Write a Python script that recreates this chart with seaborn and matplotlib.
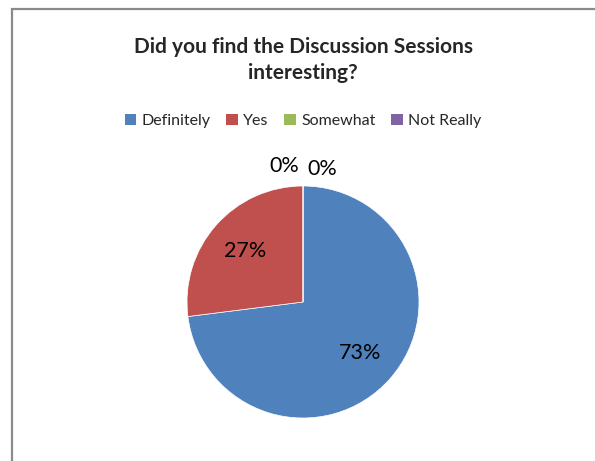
import matplotlib
matplotlib.use("Agg")
import matplotlib.pyplot as plt
import matplotlib.patches as mpatches
import seaborn as sns

categories = ["Definitely", "Yes", "Somewhat", "Not Really"]
values = [73, 27, 0, 0]
colors = ["#4F81BD", "#C0504D", "#9BBB59", "#8064A2"]
title = "Did you find the Discussion Sessions\ninteresting?"

sns.set_theme(style="white")
plt.rcParams["font.family"] = ["Lato", "DejaVu Sans"]

W, H = 595, 461
fig = plt.figure(figsize=(W / 100, H / 100), dpi=100)
fig.patch.set_facecolor("white")

# chart border (cropped at right and bottom)
border = mpatches.Rectangle((12 / W, -0.1), 1.2, (H - 9) / H + 0.1,
                            transform=fig.transFigure, fill=False,
                            edgecolor="#8a8a8a", linewidth=1.6)
fig.patches.append(border)

cx, cy, r = 303, 302, 116
ax = fig.add_axes([(cx - r) / W, (H - cy - r) / H, 2 * r / W, 2 * r / H])

def fmt(p):
    return f"{p:.0f}%" if p > 0.5 else ""

wedges, texts, autotexts = ax.pie(values, colors=colors, startangle=90,
                                  counterclock=False, autopct=fmt,
                                  pctdistance=0.66,
                                  wedgeprops=dict(linewidth=0.5, edgecolor="white"),
                                  textprops=dict(fontsize=15.5, color="black"))
ax.set_xlim(-1, 1)
ax.set_ylim(-1, 1)
ax.set_aspect("equal")

# zero-value labels placed outside, beside the top of the pie
total = sum(values)
zero_offsets = [(-0.16, 1.17), (0.17, 1.15)]
zi = 0
for v in values:
    if v == 0:
        dx, dy = zero_offsets[zi]
        ax.text(dx, dy, f"{100 * v / total:.0f}%", ha="center", va="center",
                fontsize=15.5, color="black")
        zi += 1

fig.text(cx / W, 1 - 60 / H, title, ha="center", va="center",
         fontsize=15, fontweight="bold", linespacing=1.4)

handles = [mpatches.Patch(facecolor=c, edgecolor="none", label=l)
           for c, l in zip(colors, categories)]
fig.legend(handles=handles, loc="center", bbox_to_anchor=(cx / W, 1 - 121 / H),
           ncol=4, frameon=False, fontsize=11.5, handlelength=0.75,
           handleheight=0.75, handletextpad=0.3, columnspacing=1.0)

fig.savefig("out.png", dpi=100)
